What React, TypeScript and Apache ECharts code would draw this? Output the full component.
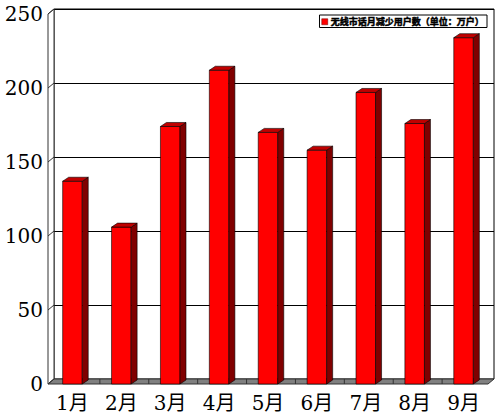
import React, { useEffect, useRef } from 'react';
import * as echarts from 'echarts';

// 月份与数据（单位：万户）
const categories = ['1月', '2月', '3月', '4月', '5月', '6月', '7月', '8月', '9月'];
const values = [137, 106, 174, 212, 170, 158, 197, 176, 234];
const yTicks = [0, 50, 100, 150, 200, 250];
const seriesName = '无线市话月减少用户数（单位：万户）';

// 3D 深度偏移
const DX = 6;
const DY = 5;
const BAR_DY = 4;

const labelFont = "'DejaVu Serif', 'Noto Sans CJK SC', serif";

const App: React.FC = () => {
  const chartRef = useRef<HTMLDivElement>(null);

  useEffect(() => {
    if (!chartRef.current) return;
    const chart = echarts.init(chartRef.current, null, { renderer: 'svg' });

    const option = {
      animation: false,
      backgroundColor: '#fff',
      legend: {
        data: [seriesName],
        right: 13,
        top: 15,
        padding: [2, 3, 1, 2],
        itemWidth: 6,
        itemHeight: 6,
        itemGap: 0,
        icon: 'rect',
        borderColor: '#000',
        borderWidth: 1,
        backgroundColor: '#fff',
        itemStyle: { borderColor: '#600', borderWidth: 0.5 },
        textStyle: {
          fontSize: 9,
          fontWeight: 'bold',
          color: '#000',
          fontFamily: 'Noto Sans CJK SC',
          textBorderColor: '#000',
          textBorderWidth: 0.5,
          padding: [0, 0, 0, -2],
        },
      },
      grid: [
        // 背面
        {
          left: 48 + DX,
          right: 12 - DX,
          top: 14 - DY,
          bottom: 34 + DY,
          show: true,
          borderColor: '#000',
          borderWidth: 1,
          backgroundColor: '#fff',
        },
        // 正面
        { left: 48, right: 12, top: 14, bottom: 34 },
      ],
      xAxis: [
        { gridIndex: 0, type: 'category', data: categories, show: false },
        {
          gridIndex: 1,
          type: 'category',
          data: categories,
          axisLine: { show: false },
          axisTick: { show: false },
          axisLabel: { margin: 9, fontSize: 20, color: '#000', fontFamily: labelFont },
        },
      ],
      yAxis: [
        {
          gridIndex: 0,
          type: 'value',
          min: 0,
          max: 250,
          interval: 50,
          axisLine: { show: false },
          axisTick: { show: false },
          axisLabel: { show: false },
          splitLine: { lineStyle: { color: '#000', width: 1 } },
        },
        {
          gridIndex: 1,
          type: 'value',
          min: 0,
          max: 250,
          interval: 50,
          axisLine: { show: false },
          axisTick: { show: false },
          splitLine: { show: false },
          axisLabel: { margin: 5, fontSize: 20, color: '#000', fontFamily: labelFont },
        },
      ],
      series: [
        {
          // 左墙与底面
          name: 'walls',
          type: 'custom',
          xAxisIndex: 1,
          yAxisIndex: 1,
          z: 1,
          silent: true,
          data: [[0, 0]],
          renderItem: (params: any, api: any) => {
            const cs = params.coordSys;
            const x0 = cs.x;
            const y0 = cs.y;
            const w = cs.width;
            const h = cs.height;
            const children: any[] = [
              {
                type: 'polygon',
                shape: { points: [[x0, y0], [x0 + DX, y0 - DY], [x0 + DX, y0 + h - DY], [x0, y0 + h]] },
                style: { fill: '#fff', stroke: '#333', lineWidth: 1 },
              },
              {
                type: 'polygon',
                shape: {
                  points: [[x0, y0 + h], [x0 + w, y0 + h], [x0 + w + DX, y0 + h - DY], [x0 + DX, y0 + h - DY]],
                },
                style: { fill: '#808080', stroke: '#333', lineWidth: 1 },
              },
            ];
            yTicks.forEach((v) => {
              const y = api.coord([0, v])[1];
              children.push({
                type: 'line',
                shape: { x1: x0, y1: y, x2: x0 + DX, y2: y - DY },
                style: { stroke: '#333', lineWidth: 1 },
              });
            });
            for (let k = 1; k < categories.length; k++) {
              const x = x0 + (w * k) / categories.length;
              children.push({
                type: 'line',
                shape: { x1: x + DX / 2, y1: y0 + h - DY, x2: x + DX / 2, y2: y0 + h },
                style: { stroke: '#333', lineWidth: 1 },
              });
            }
            return { type: 'group', children };
          },
        },
        {
          name: seriesName,
          type: 'custom',
          xAxisIndex: 1,
          yAxisIndex: 1,
          z: 3,
          itemStyle: { color: '#ff0000' },
          encode: { x: 0, y: 1 },
          data: values.map((v, i) => [i, v]),
          renderItem: (params: any, api: any) => {
            const top = api.coord([api.value(0), api.value(1)]);
            const bottom = api.coord([api.value(0), 0]);
            const bw = api.size([1, 0])[0] * 0.4;
            const xl = top[0] - bw / 2;
            const xr = top[0] + bw / 2;
            const yt = top[1];
            const yb = bottom[1];
            const stroke = { stroke: '#000', lineWidth: 0.6 };
            return {
              type: 'group',
              children: [
                {
                  type: 'rect',
                  shape: { x: xl, y: yt, width: bw, height: yb - yt },
                  style: { fill: '#ff0000', ...stroke },
                },
                {
                  type: 'polygon',
                  shape: { points: [[xr, yt], [xr + DX, yt - BAR_DY], [xr + DX, yb - BAR_DY], [xr, yb]] },
                  style: { fill: '#800000', ...stroke },
                },
                {
                  type: 'polygon',
                  shape: { points: [[xl, yt], [xl + DX, yt - BAR_DY], [xr + DX, yt - BAR_DY], [xr, yt]] },
                  style: { fill: '#c00000', ...stroke },
                },
              ],
            };
          },
        },
      ],
    };

    chart.setOption(option);
    return () => {
      chart.dispose();
    };
  }, []);

  return (
    <div
      ref={chartRef}
      style={{ position: 'fixed', left: 0, top: 0, width: '500px', height: '418px' }}
    />
  );
};

export default App;
